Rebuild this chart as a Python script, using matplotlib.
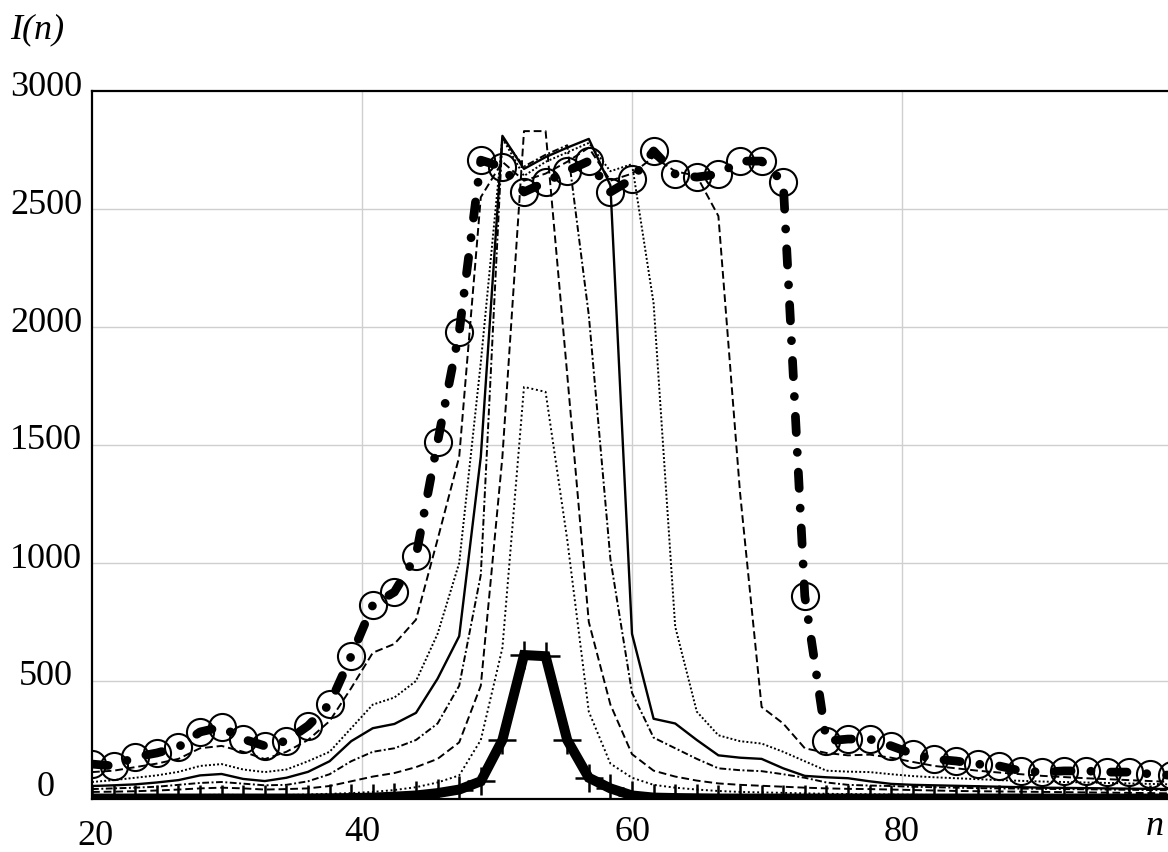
import matplotlib
matplotlib.use("Agg")
import matplotlib.pyplot as plt

# === DATA ===
n = [20.0, 21.6, 23.2, 24.8, 26.4, 28.0, 29.6, 31.2, 32.8, 34.4,
     36.0, 37.6, 39.2, 40.8, 42.4, 44.0, 45.6, 47.2, 48.8, 50.4,
     52.0, 53.6, 55.2, 56.8, 58.4, 60.0, 61.6, 63.2, 64.8, 66.4,
     68.0, 69.6, 71.2, 72.8, 74.4, 76.0, 77.6, 79.2, 80.8, 82.4,
     84.0, 85.6, 87.2, 88.8, 90.4, 92.0, 93.6, 95.2, 96.8, 98.4, 100.0]

I0 = [2, 2, 2, 2, 2, 2, 2, 2, 2, 2, 2, 3, 4, 6, 10, 15, 25, 40, 75, 250,
      610, 605, 250, 90, 45, 15, 6, 4, 3, 2, 2, 2, 2, 2, 2, 2, 2, 2, 2, 2,
      2, 2, 2, 2, 2, 2, 2, 2, 2, 2, 2]

I1 = [12, 12, 13, 14, 15, 17, 18, 17, 16, 17, 19, 22, 25, 30, 38, 50, 70, 100, 250, 640,
      1746, 1725, 1100, 370, 150, 90, 60, 48, 40, 34, 30, 28, 26, 24, 22, 21, 20, 19, 18, 17,
      16, 15, 15, 14, 14, 13, 13, 12, 12, 11, 11]

I2 = [30, 31, 33, 36, 40, 45, 48, 45, 40, 42, 45, 55, 75, 95, 110, 135, 170, 240, 480, 1450,
      2830, 2830, 1800, 750, 400, 190, 120, 95, 78, 66, 60, 56, 52, 48, 45, 43, 42, 40, 38, 36,
      34, 33, 32, 31, 30, 29, 28, 27, 26, 25, 24]

I3 = [42, 45, 48, 52, 60, 68, 72, 65, 58, 60, 75, 105, 160, 200, 215, 250, 320, 480, 950, 2800,
      2680, 2730, 2770, 2050, 1017, 450, 260, 215, 170, 130, 122, 118, 105, 90, 70, 60, 57, 55, 52, 50,
      48, 46, 45, 44, 43, 42, 41, 40, 39, 38, 37]

I4 = [55, 58, 62, 70, 80, 100, 106, 85, 76, 90, 115, 160, 245, 300, 318, 365, 510, 690, 1450, 2810,
      2670, 2720, 2760, 2797, 2600, 700, 340, 320, 250, 185, 175, 170, 130, 98, 92, 88, 75, 64, 60, 58,
      56, 54, 52, 50, 48, 47, 46, 45, 44, 43, 42]

I5 = [72, 80, 90, 100, 115, 140, 148, 125, 114, 125, 160, 200, 300, 400, 430, 500, 700, 1000, 1850, 2800,
      2640, 2700, 2740, 2780, 2660, 2690, 2100, 730, 370, 270, 245, 235, 200, 160, 120, 116, 114, 105, 97, 92,
      88, 84, 80, 77, 74, 72, 70, 68, 66, 64, 62]

I6 = [114, 120, 135, 150, 170, 215, 225, 200, 169, 200, 250, 330, 470, 620, 657, 760, 1100, 1450, 2550, 2700,
      2620, 2650, 2700, 2760, 2620, 2650, 2720, 2660, 2640, 2470, 1300, 390, 320, 215, 195, 185, 188, 175, 157, 140,
      130, 120, 112, 105, 98, 93, 88, 84, 80, 76, 72]

I7 = [148, 140, 178, 195, 220, 284, 305, 254, 225, 246, 310, 402, 606, 822, 877, 1030, 1513, 1979, 2707, 2678,
      2572, 2614, 2661, 2703, 2572, 2627, 2746, 2648, 2635, 2648, 2703, 2703, 2614, 860, 246, 254, 254, 225, 191, 169,
      161, 148, 140, 119, 114, 119, 119, 114, 114, 106, 100]

y_ticks = [0, 500, 1000, 1500, 2000, 2500, 3000]
x_ticks = [20, 40, 60, 80]

# === FIGURE ===
W, H = 1168, 853
fig = plt.figure(figsize=(W / 100, H / 100), dpi=100)
ax_left, ax_right, ax_top, ax_bottom = 92, 1172, 92, 800
ax = fig.add_axes([ax_left / W, (H - ax_bottom) / H,
                   (ax_right - ax_left) / W, (ax_bottom - ax_top) / H])
ax.set_xlim(20, 100)
ax.set_ylim(0, 3000)

ax.set_xticks([40, 60, 80])
ax.set_yticks([500, 1000, 1500, 2000, 2500])
ax.tick_params(length=0, labelbottom=False, labelleft=False)
ax.grid(True, color="#cfcfcf", linewidth=1.0, zorder=0)
ax.set_axisbelow(True)
for side in ["top", "left", "bottom"]:
    ax.spines[side].set_linewidth(1.6)
ax.spines["right"].set_visible(False)

thin = 1.4
ax.plot(n, I6, color="black", lw=thin, linestyle=(0, (4, 2)), zorder=3)
ax.plot(n, I5, color="black", lw=thin, linestyle=(0, (1, 1.1)), zorder=3)
ax.plot(n, I4, color="black", lw=thin + 0.3, linestyle="-", zorder=3)
ax.plot(n, I3, color="black", lw=thin, linestyle=(0, (3.5, 1.3, 1, 1.3)), zorder=3)
ax.plot(n, I2, color="black", lw=thin, linestyle=(0, (4, 2)), zorder=3)
ax.plot(n, I1, color="black", lw=thin, linestyle=(0, (1, 1.4)), zorder=3)

ax.plot(n, I0, color="black", lw=7.2, solid_joinstyle="miter",
        marker="+", markersize=20, markeredgewidth=1.8, zorder=4)

ax.plot(n, I7, color="black", lw=6.3, linestyle=(0, (1.86, 2.26, 0.01, 2.26)),
        dash_capstyle="round", zorder=5)
ax.plot(n, I7, linestyle="none", marker="o", markersize=19.5,
        markerfacecolor="none", markeredgecolor="black", markeredgewidth=1.5, zorder=6)

# === TEXT ===
serif = "Liberation Serif"
fs = 26
ytr = ax.get_yaxis_transform()
xtr = ax.get_xaxis_transform()
span_x = ax_right - ax_left
span_y = ax_bottom - ax_top
px_per_y = span_y / 3000
for v in y_ticks:
    shift = 12 if v == 0 else 5
    ax.text(-46 / span_x, v + shift / px_per_y, str(v), transform=ytr, ha="center",
            va="center", fontsize=fs, family=serif, clip_on=False)
for v in x_ticks:
    dy = 37 if v == 20 else 33
    dx = 3 if v == 20 else 0
    ax.text(v + dx / 13.5, -dy / span_y, str(v), transform=xtr, ha="center", va="center",
            fontsize=fs, family=serif, clip_on=False)
ax.text(20 + (1155 - ax_left) / 13.5, -27 / span_y, "n", transform=xtr, ha="center",
        va="center", fontsize=fs, family=serif, style="italic", clip_on=False)
fig.text(37 / W, 1 - 30 / H, "I(n)", ha="center", va="center", fontsize=fs,
         family=serif, style="italic")

fig.savefig("out.png", dpi=100)
plt.close(fig)
